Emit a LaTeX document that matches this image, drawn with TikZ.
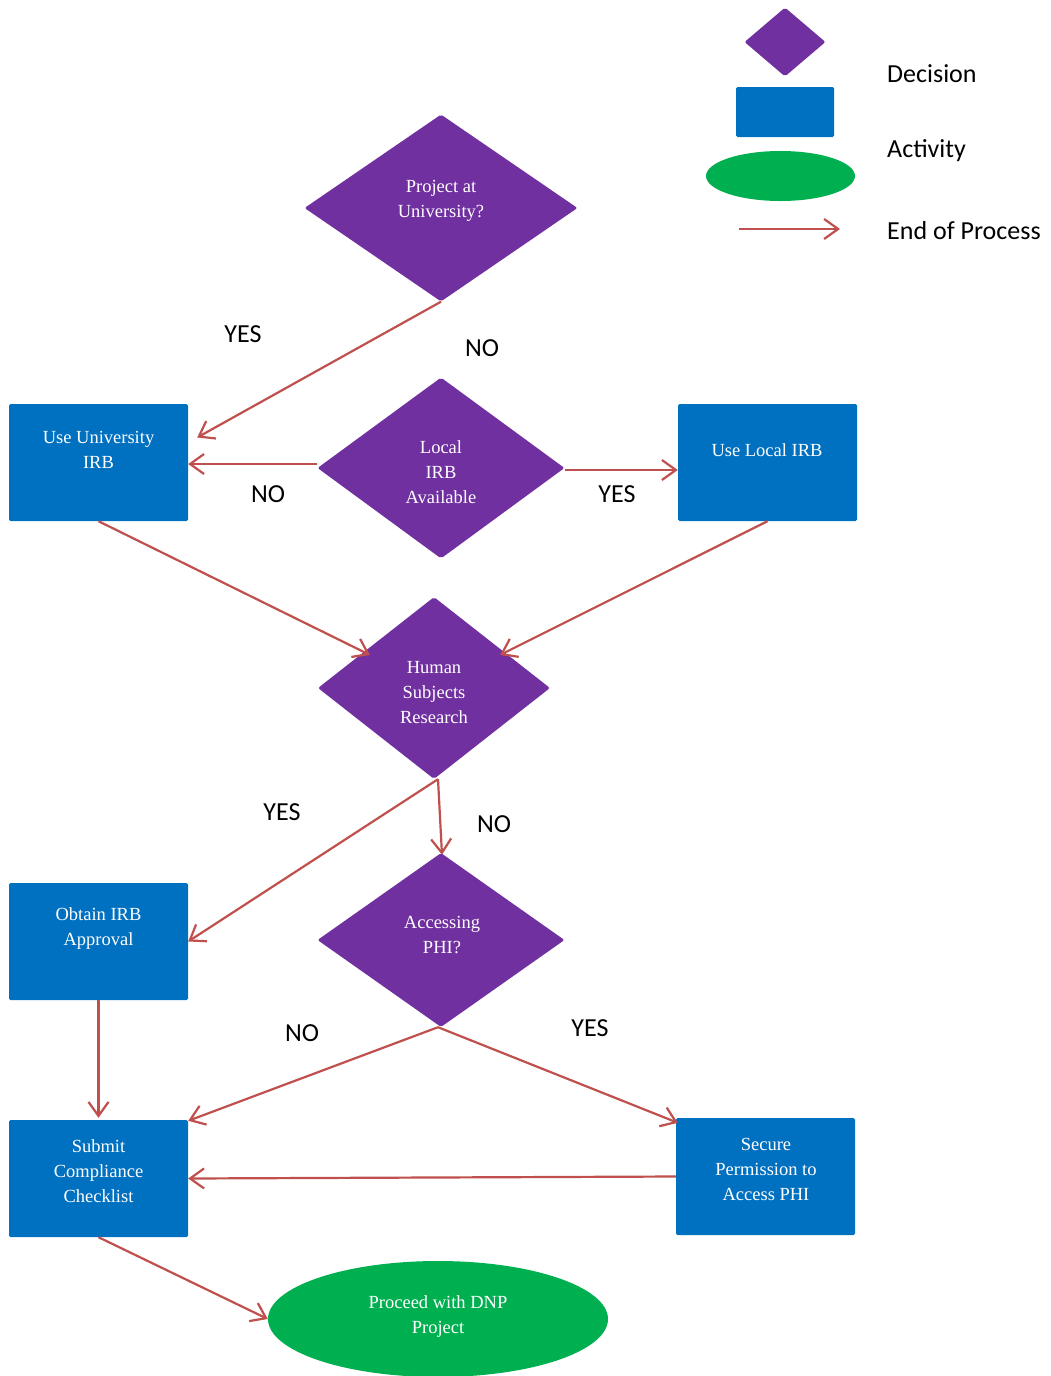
\documentclass[tikz,border=0pt]{standalone}
\usepackage{fontspec}
\setmainfont{Liberation Serif}
\newfontfamily\calib{Carlito}
\usetikzlibrary{shapes.geometric,arrows.meta}
\definecolor{dpurple}{HTML}{7030A0}
\definecolor{dblue}{HTML}{0070C0}
\definecolor{dgreen}{HTML}{00B050}
\definecolor{dred}{HTML}{C0504D}
\begin{document}
\begin{tikzpicture}[x=1pt,y=-1pt,
 decision/.style={diamond, fill=dpurple, inner sep=0pt, rounded corners=2pt},
 activity/.style={rectangle, fill=dblue, inner sep=0pt, minimum width=179pt, minimum height=117pt, rounded corners=1.5pt},
 terminal/.style={ellipse, fill=dgreen, inner sep=0pt},
 ntext/.style={text=white, align=center, inner sep=0pt, font=\fontsize{18.5}{25}\selectfont},
 lbl/.style={font=\calib\fontsize{26}{30}\selectfont, text=black, inner sep=0pt},
 flow/.style={draw=dred, line width=2.2pt, -{Straight Barb[length=14pt,width=20pt]}}
]
\useasboundingbox[fill=white] (0,0) rectangle (1050,1376);

% legend
\node[decision, minimum width=81pt, minimum height=69pt] (LD) at (785,42) {};
\node[activity, minimum width=98pt, minimum height=50pt] (LA) at (785,112) {};
\node[terminal, minimum width=149pt, minimum height=50pt] (LE) at (780.5,176) {};
\coordinate (LS) at (739,229);
\coordinate (LT) at (840,229);
\draw[flow] (LS) -- (LT);
\node[lbl, anchor=base west] (LDt) at (887,82) {Decision};
\node[lbl, anchor=base west] (LAt) at (887,157.5) {Activity};
\node[lbl, anchor=base west] (LEt) at (887,239.5) {End of Process};

% decisions
\node[decision, minimum width=273pt, minimum height=187pt] (D1) at (441,208) {};
\node[ntext] (D1t) at (441,200.5) {Project at\\University?};
\node[decision, minimum width=247pt, minimum height=181pt] (D2) at (441,468) {};
\node[ntext] (D2t) at (441,472) {Local\\IRB\\Available};
\node[decision, minimum width=232pt, minimum height=182pt] (D3) at (434,688) {};
\node[ntext] (D3t) at (434,693) {Human\\Subjects\\Research};
\node[decision, minimum width=247pt, minimum height=174pt] (D4) at (441,940) {};
\node[ntext] (D4t) at (442,935) {Accessing\\PHI?};

% activities
\node[activity] (R1) at (98.5,462.5) {};
\node[ntext] (R1t) at (98.5,449.5) {Use University\\IRB};
\node[activity] (R2) at (767.5,462.5) {};
\node[ntext] (R2t) at (767,450) {Use Local IRB};
\node[activity] (R3) at (98.5,941.5) {};
\node[ntext] (R3t) at (98.5,929) {Obtain IRB\\Approval};
\node[activity] (R4) at (98.5,1178.5) {};
\node[ntext] (R4t) at (98.5,1171) {Submit\\Compliance\\Checklist};
\node[activity] (R5) at (765.5,1176.5) {};
\node[ntext] (R5t) at (766,1169.5) {Secure\\Permission to\\Access PHI};

% terminal
\node[terminal, minimum width=340pt, minimum height=116pt] (E) at (438,1319) {};
\node[ntext] (Et) at (438,1317) {Proceed with DNP\\Project};

% connectors
\draw[flow] (D1.south) -- ([shift={(9,-25)}]R1.east);
\draw[flow] ([shift={(0,-4)}]D2.west) -- ([shift={(0,-4)}]D2.west -| R1.east);
\draw[flow] ([shift={(0,2)}]D2.east) -- ([shift={(0,2)}]D2.east -| R2.west);
\draw[flow] (R1.south) -- ([shift={(-64,-33)}]D3.center);
\draw[flow] (R2.south) -- ([shift={(66,-33)}]D3.center);
\draw[flow] ([shift={(4,0)}]D3.south) -- (R3.east);
\draw[flow] ([shift={(4,0)}]D3.south) -- ([shift={(1,2)}]D4.north);
\draw[flow] (R3.south) -- ([shift={(0,-2)}]R4.north);
\draw[flow] ([shift={(-3,0)}]D4.south) -- ([shift={(0,1)}]R4.north east);
\draw[flow] ([shift={(-3,0)}]D4.south) -- ([shift={(2,5)}]R5.north west);
\draw[flow] (R5.west) -- (R4.east);
\draw[flow] (R4.south) -- (E.west);

% labels
\node[lbl] (y1) at (243,334) {YES};
\node[lbl] (n1) at (482,348) {NO};
\node[lbl] (n2) at (268,494) {NO};
\node[lbl] (y2) at (617,494) {YES};
\node[lbl] (y3) at (282,812) {YES};
\node[lbl] (n3) at (494,824) {NO};
\node[lbl] (n4) at (302,1033) {NO};
\node[lbl] (y4) at (590,1028) {YES};
\end{tikzpicture}
\end{document}
